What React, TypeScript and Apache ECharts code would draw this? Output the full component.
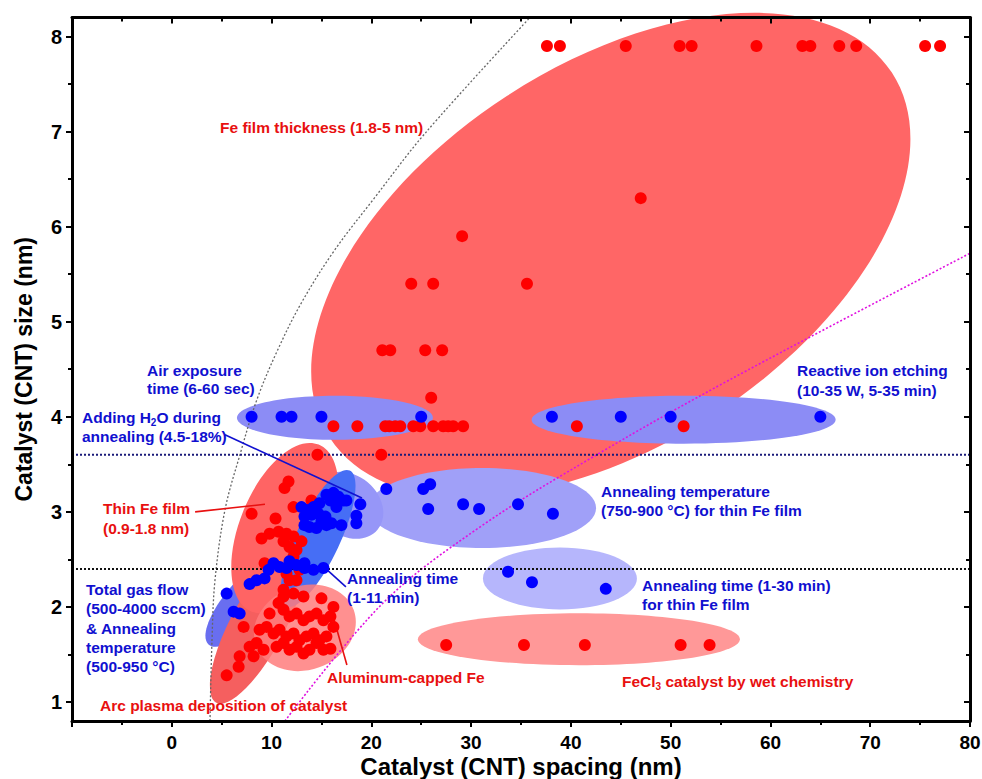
import React, { useEffect, useRef } from "react";
import * as echarts from "echarts";

const FONT = '"Liberation Sans", Arial, sans-serif';
const xTitle = "Catalyst (CNT) spacing (nm)";
const yTitle = "Catalyst (CNT) size (nm)";
const yMajorTicks = [1, 2, 3, 4, 5, 6, 7, 8];
const yMinorTicks = [1.5, 2.5, 3.5, 4.5, 5.5, 6.5, 7.5];

const redPoints: [number, number][] = [
  [37.6, 7.9], [38.9, 7.9], [45.5, 7.9], [50.9, 7.9], [52.1, 7.9], [58.6, 7.9], [63.2, 7.9], [64.0, 7.9],
  [66.9, 7.9], [68.6, 7.9], [75.5, 7.9], [77.0, 7.9],
  [47.0, 6.3], [29.1, 5.9], [24.0, 5.4], [26.2, 5.4], [35.6, 5.4], [21.1, 4.7], [21.9, 4.7], [25.4, 4.7],
  [27.1, 4.7], [26.0, 4.2],
  [16.2, 3.9], [18.6, 3.9], [21.4, 3.9], [21.8, 3.9], [22.4, 3.9], [22.9, 3.9], [24.2, 3.9], [24.9, 3.9],
  [26.2, 3.9], [27.2, 3.9], [27.7, 3.9], [28.2, 3.9], [29.2, 3.9], [40.6, 3.9], [51.3, 3.9],
  [14.6, 3.6], [21.0, 3.6],
  [27.5, 1.6], [35.3, 1.6], [41.4, 1.6], [51.0, 1.6], [53.9, 1.6],
  [11.7, 3.32], [11.3, 3.25], [8.0, 2.98], [10.4, 2.93], [12.2, 3.05], [14.0, 3.12], [9.0, 2.72], [9.8, 2.77],
  [10.7, 2.79], [11.5, 2.77], [12.2, 2.74], [13.0, 2.69], [11.2, 2.69], [11.8, 2.63], [12.5, 2.6], [12.2, 2.53],
  [9.3, 2.46], [11.5, 2.35], [11.8, 2.28], [11.2, 2.18], [12.2, 2.14],
  [10.7, 2.04], [9.8, 1.93], [11.2, 1.97], [11.8, 1.9], [12.5, 1.93], [13.2, 1.86], [13.8, 1.9], [14.5, 1.93],
  [15.2, 1.86], [15.9, 1.9], [16.2, 2.0], [15.0, 2.09], [8.8, 1.76], [9.5, 1.79], [10.2, 1.72], [10.8, 1.76],
  [11.5, 1.69], [12.2, 1.72], [12.8, 1.65], [13.5, 1.69], [14.2, 1.72], [14.8, 1.65], [15.5, 1.69], [16.2, 1.79],
  [7.8, 1.58], [8.5, 1.62], [9.2, 1.55], [10.5, 1.58], [11.2, 1.62], [11.8, 1.55], [12.5, 1.58], [13.2, 1.51],
  [13.8, 1.55], [14.5, 1.62], [15.2, 1.55], [15.9, 1.56], [7.2, 1.79], [6.8, 1.48], [8.2, 1.48], [6.7, 1.37],
  [5.5, 1.28], [11.2, 2.11], [12.5, 2.28], [12.8, 2.39], [13.2, 2.11],
];

const bluePoints: [number, number][] = [
  [8.0, 4.0], [11.0, 4.0], [12.0, 4.0], [15.0, 4.0], [25.0, 4.0],
  [38.1, 4.0], [45.0, 4.0], [50.0, 4.0], [65.0, 4.0],
  [21.5, 3.24], [25.2, 3.24], [25.9, 3.29], [25.7, 3.03], [29.2, 3.08], [30.8, 3.03], [34.7, 3.08], [38.2, 2.98],
  [33.7, 2.37], [36.1, 2.26], [43.5, 2.19],
  [15.5, 3.18], [16.2, 3.2], [16.7, 3.16], [17.2, 3.12], [15.9, 3.12], [16.5, 3.05], [13.0, 3.05], [13.5, 3.02],
  [14.2, 3.05], [14.8, 3.09], [13.3, 2.95], [14.0, 2.97], [14.7, 2.98], [15.4, 2.95], [13.3, 2.86], [13.8, 2.84],
  [14.5, 2.83], [15.5, 2.86], [16.0, 2.88], [17.0, 2.86], [15.0, 2.9], [17.5, 3.12], [18.9, 3.08], [18.5, 2.96],
  [18.5, 2.88],
  [10.2, 2.46], [10.8, 2.42], [11.8, 2.48], [12.5, 2.44], [13.3, 2.46], [13.3, 2.41], [14.2, 2.39], [15.2, 2.41],
  [9.7, 2.39], [11.5, 2.41],
  [7.8, 2.24], [8.5, 2.28], [9.3, 2.3], [5.5, 2.14], [6.2, 1.95], [6.8, 1.93],
];

const grayCurve: [number, number][] = [
  [3.83, 0.8], [4.03, 1.65], [4.33, 2.28], [5.33, 3.02], [6.83, 3.6], [8.53, 4.18], [10.6, 4.7],
  [13.0, 5.2], [16.3, 5.75], [20.3, 6.3], [25.37, 6.98], [35.9, 8.2],
];
const magentaCurve: [number, number][] = [
  [11.34, 0.8], [21.16, 2.04], [30.88, 2.84], [42.9, 3.62], [55.93, 4.39], [80, 5.72],
];
const hLineNavy = 3.6;
const hLineBlack = 2.4;

// regions: center in data units; semi-axes (px) and tilt (deg, counter-clockwise)
const regions = [
  { c: [44.0, 5.7], rx: 335, ry: 190, a: 33, color: "rgb(255,102,102)" },
  { c: [16.35, 3.99], rx: 98, ry: 22, a: 0, color: "rgb(140,140,245)" },
  { c: [51.3, 3.97], rx: 152, ry: 24, a: 0, color: "rgb(140,140,245)" },
  { c: [31.1, 3.04], rx: 114, ry: 40, a: 0, color: "rgb(160,160,248)" },
  { c: [38.9, 2.3], rx: 77, ry: 31, a: 0, color: "rgb(182,182,252)" },
  { c: [40.8, 1.66], rx: 161, ry: 26, a: 0, color: "rgb(255,152,152)" },
  { c: [17.7, 3.07], rx: 38, ry: 30, a: -40, color: "rgb(150,150,248)" },
  { c: [7.84, 2.09], rx: 62, ry: 22, a: 48, color: "rgb(105,110,240)" },
  { c: [8.6, 1.81], rx: 88, ry: 27, a: 62, color: "rgb(245,95,95)" },
  { c: [11.34, 2.83], rx: 90, ry: 45, a: 68, color: "rgb(255,100,100)" },
  { c: [14.66, 2.72], rx: 75, ry: 22, a: 65, color: "rgb(70,110,245)" },
  { c: [13.34, 1.78], rx: 52, ry: 42, a: 20, color: "rgba(255,125,125,0.85)" },
];

const leaders = [
  { pts: [[5.33, 3.81], [19.06, 3.146]], color: "#1010d0" },
  { pts: [[2.34, 3.0], [9.34, 3.08]], color: "#e81010" },
  { pts: [[17.45, 2.21], [15.35, 2.41]], color: "#1010d0" },
  { pts: [[17.55, 1.39], [16.15, 1.91]], color: "#e81010" },
];

const BLUE = "#1010d0";
const RED = "#e81010";
const FS = 15.5;

const notes = [
  { text: "Fe film thickness (1.8-5 nm)", left: 220, top: 118, color: RED, lh: 18 },
  { text: "Air exposure\ntime (6-60 sec)", left: 147, top: 361, color: BLUE, lh: 18.5 },
  { text: "{n|Adding H}{s|2}{n|O during}\n{n|annealing (4.5-18%)}", left: 82, top: 408, color: BLUE, lh: 19, rich: true },
  { text: "Reactive ion etching\n(10-35 W, 5-35 min)", left: 797, top: 361, color: BLUE, lh: 19.5 },
  { text: "Annealing temperature\n(750-900 °C) for thin Fe film", left: 601, top: 482, color: BLUE, lh: 19 },
  { text: "Annealing time (1-30 min)\nfor thin Fe film", left: 642, top: 576, color: BLUE, lh: 19 },
  { text: "Thin Fe film\n(0.9-1.8 nm)", left: 103, top: 498, color: RED, lh: 20 },
  { text: "Total gas flow\n(500-4000 sccm)\n& Annealing\ntemperature\n(500-950 °C)", left: 86, top: 580, color: BLUE, lh: 19.3 },
  { text: "Annealing time\n(1-11 min)", left: 347, top: 569, color: BLUE, lh: 19 },
  { text: "Aluminum-capped Fe", left: 327, top: 668, color: RED, lh: 18 },
  { text: "Arc plasma deposition of catalyst", left: 100, top: 696, color: RED, lh: 18 },
  { text: "{n|FeCl}{s|3}{n| catalyst by wet chemistry}", left: 622, top: 672, color: RED, lh: 18, rich: true },
];

export default function App() {
  const ref = useRef<HTMLDivElement>(null);
  useEffect(() => {
    if (!ref.current) return;
    const chart = echarts.init(ref.current, null, { renderer: "svg" });
    const xBase = {
      type: "value", min: -10, max: 80, interval: 10, splitLine: { show: false }, z: 10,
      axisLine: { show: true, onZero: false, lineStyle: { color: "#000", width: 3 } },
    };
    const yBase = {
      type: "value", min: 0.8, max: 8.2, splitLine: { show: false }, z: 10,
    };
    const tickStyle = { color: "#000", width: 2 };
    const option: any = {
      animation: false,
      backgroundColor: "#fff",
      grid: { left: 72, right: 12, top: 17.5, bottom: 58, containLabel: false, outerBoundsMode: "none" },
      xAxis: [
        {
          ...xBase, position: "bottom",
          name: xTitle, nameLocation: "middle", nameGap: 33, nameMoveOverlap: false,
          nameTextStyle: { fontFamily: FONT, fontWeight: "bold", fontSize: 24, lineHeight: 24, color: "#000" },
          axisTick: { show: true, length: 6, lineStyle: tickStyle },
          minorTick: { show: true, splitNumber: 2, length: 4, lineStyle: tickStyle },
          axisLabel: { showMinLabel: false, margin: 12, fontFamily: FONT, fontWeight: "bold", fontSize: 19, lineHeight: 19, color: "#000" },
        },
        {
          ...xBase, position: "top",
          axisTick: { show: true, inside: true, length: 6, lineStyle: tickStyle },
          minorTick: { show: true, splitNumber: 2, length: 4, lineStyle: tickStyle },
          axisLabel: { show: false },
        },
      ],
      yAxis: [
        {
          ...yBase, position: "left",
          name: yTitle, nameLocation: "middle", nameGap: 37, nameRotate: 90, nameMoveOverlap: false,
          nameTextStyle: { fontFamily: FONT, fontWeight: "bold", fontSize: 23, color: "#000" },
          axisLine: { show: true, onZero: false, lineStyle: { color: "#000", width: 3 } },
          axisTick: { show: true, length: 6, customValues: yMajorTicks, lineStyle: tickStyle },
          axisLabel: { customValues: yMajorTicks, margin: 10, fontFamily: FONT, fontWeight: "bold", fontSize: 20, color: "#000" },
        },
        {
          ...yBase, position: "left",
          axisLine: { show: false, onZero: false },
          axisTick: { show: true, length: 4, customValues: yMinorTicks, lineStyle: tickStyle },
          axisLabel: { show: false },
        },
        {
          ...yBase, position: "right",
          axisLine: { show: true, onZero: false, lineStyle: { color: "#000", width: 3 } },
          axisTick: { show: true, inside: true, length: 6, customValues: yMajorTicks, lineStyle: tickStyle },
          axisLabel: { show: false },
        },
        {
          ...yBase, position: "right",
          axisLine: { show: false, onZero: false },
          axisTick: { show: true, inside: true, length: 4, customValues: yMinorTicks, lineStyle: tickStyle },
          axisLabel: { show: false },
        },
      ],
      series: [
        {
          type: "custom", z: 1, silent: true,
          data: regions.map((r) => [r.c[0], r.c[1]]),
          renderItem: (params: any, api: any) => {
            const r = regions[params.dataIndex];
            const p = api.coord([api.value(0), api.value(1)]);
            return {
              type: "ellipse", x: p[0], y: p[1], rotation: (r.a * Math.PI) / 180,
              shape: { cx: 0, cy: 0, rx: r.rx, ry: r.ry },
              style: { fill: r.color },
            };
          },
        },
        {
          type: "line", z: 2, data: grayCurve, smooth: 0.35, symbol: "none",
          lineStyle: { color: "#666", width: 1.3, type: [2, 2] },
        },
        {
          type: "line", z: 2, data: magentaCurve, smooth: 0.35, symbol: "none",
          lineStyle: { color: "#e010e0", width: 1.6, type: [2, 2] },
        },
        {
          type: "line", z: 2, data: [[-10, hLineNavy], [80, hLineNavy]], symbol: "none",
          lineStyle: { color: "#1a1a7a", width: 2, type: [2, 2] },
        },
        {
          type: "line", z: 2, data: [[-10, hLineBlack], [80, hLineBlack]], symbol: "none",
          lineStyle: { color: "#111", width: 2, type: [2, 2] },
        },
        ...leaders.map((l) => ({
          type: "line", z: 3, data: l.pts, symbol: "none",
          lineStyle: { color: l.color, width: 1.6 },
        })),
        {
          type: "scatter", z: 4, data: redPoints, symbolSize: 12,
          itemStyle: { color: "#ff0000", opacity: 1 },
        },
        {
          type: "scatter", z: 5, data: bluePoints, symbolSize: 12,
          itemStyle: { color: "#0000ff", opacity: 1 },
        },
      ],
      graphic: notes.map((n) => ({
        type: "text", left: n.left, top: n.top, z: 20,
        style: {
          text: n.text, fill: n.color,
          font: `bold ${FS}px ${FONT}`, lineHeight: n.lh,
          rich: n.rich
            ? {
                n: { fontFamily: FONT, fontWeight: "bold", fontSize: FS, fill: n.color, lineHeight: n.lh },
                s: { fontFamily: FONT, fontWeight: "bold", fontSize: 10, fill: n.color, lineHeight: n.lh, padding: [9, 0, 0, 0] },
              }
            : undefined,
        },
      })),
    };
    chart.setOption(option);
    return () => chart.dispose();
  }, []);
  return <div ref={ref} style={{ width: 982, height: 779, position: "absolute", left: 0, top: 0 }} />;
}
